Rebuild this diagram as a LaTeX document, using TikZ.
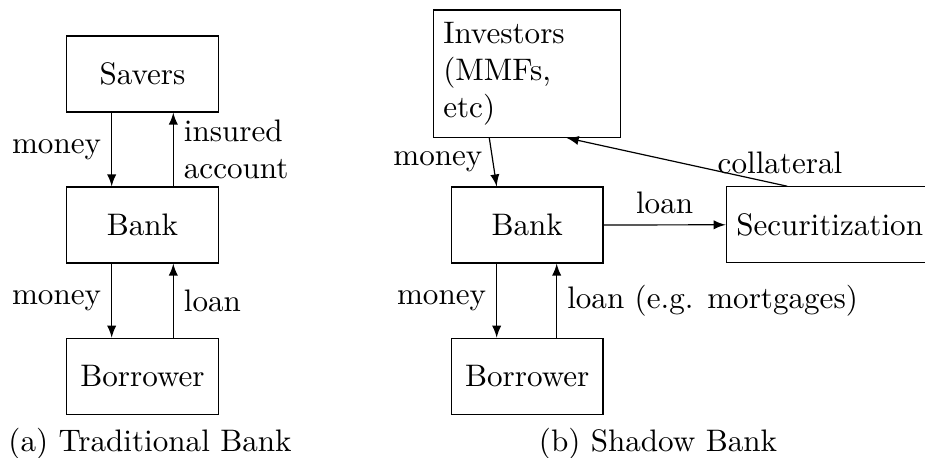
\documentclass[tikz,border=0pt]{standalone}
\usetikzlibrary{arrows}
\begin{document}
\begin{tikzpicture}[x=0.33333pt,y=-0.33333pt,
  font=\fontsize{10.37}{12.2}\selectfont,
  box/.style={draw, minimum width=50.5pt, minimum height=25.3pt, inner sep=3.33pt},
  flow/.style={-latex, line width=0.4pt}]
\useasboundingbox (0,0) rectangle (925,458);
% ---- (a) Traditional Bank
\node[box] (sav) at (142.5,74) {Savers};
\node[box] (bank) at (142.5,225) {Bank};
\node[box] (bor) at (142.5,376.3) {Borrower};
\draw[flow] ([xshift=-10.27pt]sav.south) -- node[left] {money} ([xshift=-10.27pt]bank.north);
\draw[flow] ([xshift=10.27pt]bank.north) -- node[right, align=left] {insured\\account} ([xshift=10.27pt]sav.south);
\draw[flow] ([xshift=-10.27pt]bank.south) -- node[left] {money} ([xshift=-10.27pt]bor.north);
\draw[flow] ([xshift=10.27pt]bor.north) -- node[right] {loan} ([xshift=10.27pt]bank.south);
\node[anchor=base] (capa) at (150,452) {(a) Traditional Bank};
% ---- (b) Shadow Bank
\node[draw, text width=55.8pt, align=left, minimum height=42.4pt, inner sep=3.33pt] (inv) at (527,73.7) {Investors\\(MMFs,\\etc)};
\node[box] (bank2) at (527.2,225) {Bank};
\node[box] (bor2) at (527.2,376.3) {Borrower};
\node[draw, anchor=west, minimum height=25.3pt, inner sep=3.33pt] (sec) at (725.7,224.8) {Securitization};
\draw[flow] ([xshift=-12.57pt]inv.south) -- node[left] {money} ([xshift=-10.17pt]bank2.north);
\draw[flow] ([xshift=20.53pt]sec.north west) -- node[above, pos=0.033] {collateral} ([xshift=13.23pt]inv.south);
\draw[flow] (bank2.east) -- node[above] {loan} (sec.west);
\draw[flow] ([xshift=-10.17pt]bank2.south) -- node[left] {money} ([xshift=-10.17pt]bor2.north);
\draw[flow] ([xshift=9.83pt]bor2.north) -- node[right] {loan (e.g. mortgages)} ([xshift=9.83pt]bank2.south);
\node[anchor=base] (capb) at (658,452) {(b) Shadow Bank};
\end{tikzpicture}
\end{document}
